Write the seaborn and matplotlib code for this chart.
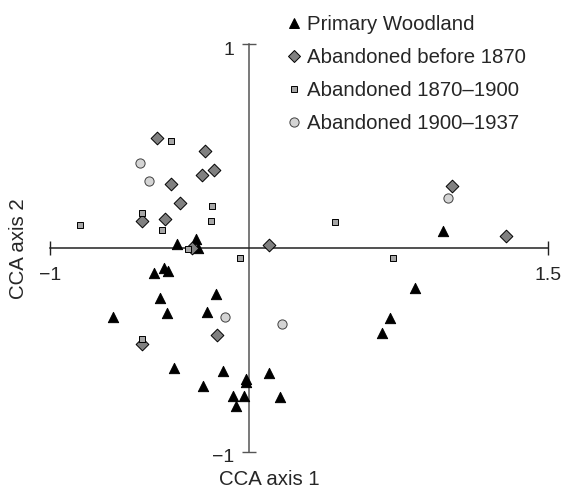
import numpy as np
import pandas as pd
import matplotlib
matplotlib.use('Agg')
import matplotlib.pyplot as plt
import matplotlib.transforms as mtransforms
from matplotlib.lines import Line2D
import seaborn as sns

# CCA site scores
primary_x = [-0.364, -0.267, -0.256, -0.478, -0.428, -0.408, -0.447, -0.169,
             -0.685, -0.414, -0.214, -0.376, -0.132, -0.018, -0.015, 0.100,
             -0.231, -0.082, -0.028, -0.065, 0.154, 0.970, 0.830, 0.708, 0.664]
primary_y = [0.020, 0.043, -0.001, -0.124, -0.100, -0.111, -0.245, -0.226,
             -0.340, -0.321, -0.314, -0.589, -0.604, -0.643, -0.660, -0.612,
             -0.677, -0.725, -0.725, -0.774, -0.730, 0.085, -0.198, -0.344, -0.419]

before1870_x = [-0.461, -0.224, -0.177, -0.236, -0.394, -0.349, -0.537, -0.421,
                -0.289, 0.100, -0.164, -0.538, 1.015, 1.286]
before1870_y = [0.539, 0.476, 0.381, 0.357, 0.313, 0.219, 0.133, 0.144,
                0.000, 0.016, -0.427, -0.471, 0.306, 0.059]

mid_x = [-0.393, -0.187, -0.540, -0.194, -0.437, -0.849, -0.309, -0.045,
         -0.538, 0.432, 0.723]
mid_y = [0.524, 0.208, 0.170, 0.134, 0.090, 0.113, -0.005, -0.051,
         -0.447, 0.126, -0.051]

late_x = [-0.547, -0.502, -0.120, 0.163, 0.999]
late_y = [0.416, 0.327, -0.340, -0.372, 0.247]

groups = ["Primary Woodland", "Abandoned before 1870",
          "Abandoned 1870\u20131900", "Abandoned 1900\u20131937"]
xs = [primary_x, before1870_x, mid_x, late_x]
ys = [primary_y, before1870_y, mid_y, late_y]

markers = ['^', 'D', 's', 'o']
faces = ['black', '#808080', '#a6a6a6', '#d4d4d4']
edges = ['black', 'black', 'black', '#404040']
sizes = [55, 42, 24, 44]

sns.set_style('white')
plt.rcParams['font.family'] = ['Liberation Sans', 'DejaVu Sans']

fig = plt.figure(figsize=(5.63, 4.90), dpi=100)
ax = fig.add_axes([50 / 563, 38.3 / 490, 498.3 / 563, 407.4 / 490])

for name, x, y, m, fc, ec, s in zip(groups, xs, ys, markers, faces, edges, sizes):
    df = pd.DataFrame({'x': x, 'y': y})
    sns.scatterplot(data=df, x='x', y='y', marker=m, color=fc, edgecolor=ec,
                    linewidth=0.7, s=s, ax=ax, zorder=3, legend=False)

ax.set_xlim(-1, 1.5)
ax.set_ylim(-1, 1)

# axes crossing at the origin
for side in ['top', 'right']:
    ax.spines[side].set_visible(False)
ax.spines['left'].set_position(('data', 0))
ax.spines['bottom'].set_position(('data', 0))
ax.spines['left'].set_color('#555555')
ax.spines['bottom'].set_color('#222222')
ax.spines['left'].set_linewidth(1.1)
ax.spines['bottom'].set_linewidth(1.1)

ax.set_xticks([-1, 1.5])
ax.set_xticklabels(['\u22121', '1.5'])
ax.set_yticks([-1, 1])
ax.set_yticklabels(['\u22121', '1'])
ax.tick_params(axis='x', bottom=True, direction='inout', length=9.4, width=1,
               color='#222222', labelsize=14, pad=9)
ax.tick_params(axis='y', left=True, direction='inout', length=9.4, width=1,
               color='#555555', labelsize=14, pad=6)
shift = mtransforms.ScaledTranslation(0, -4 / 100, fig.dpi_scale_trans)
for lab in ax.get_yticklabels():
    lab.set_transform(lab.get_transform() + shift)
ax.set_xlabel('')
ax.set_ylabel('')

fig.text(269 / 563, 1 - 479 / 490, 'CCA axis 1', ha='center', va='center', fontsize=14.7)
fig.text(19 / 563, 1 - 249 / 490, 'CCA axis 2', ha='center', va='center',
         fontsize=14.7, rotation=90)

handles = [Line2D([], [], linestyle='', marker=m, markerfacecolor=fc,
                  markeredgecolor=ec, markeredgewidth=0.7, markersize=np.sqrt(s))
           for m, fc, ec, s in zip(markers, faces, edges, sizes)]
ax.legend(handles, groups, loc='upper left', bbox_to_anchor=(288 / 563, 1 - 15 / 490),
          bbox_transform=fig.transFigure, frameon=False, fontsize=14.7,
          handlelength=0.6, handletextpad=0.34, labelspacing=0.69, borderpad=0,
          borderaxespad=0)

fig.savefig('out.png', dpi=100)
